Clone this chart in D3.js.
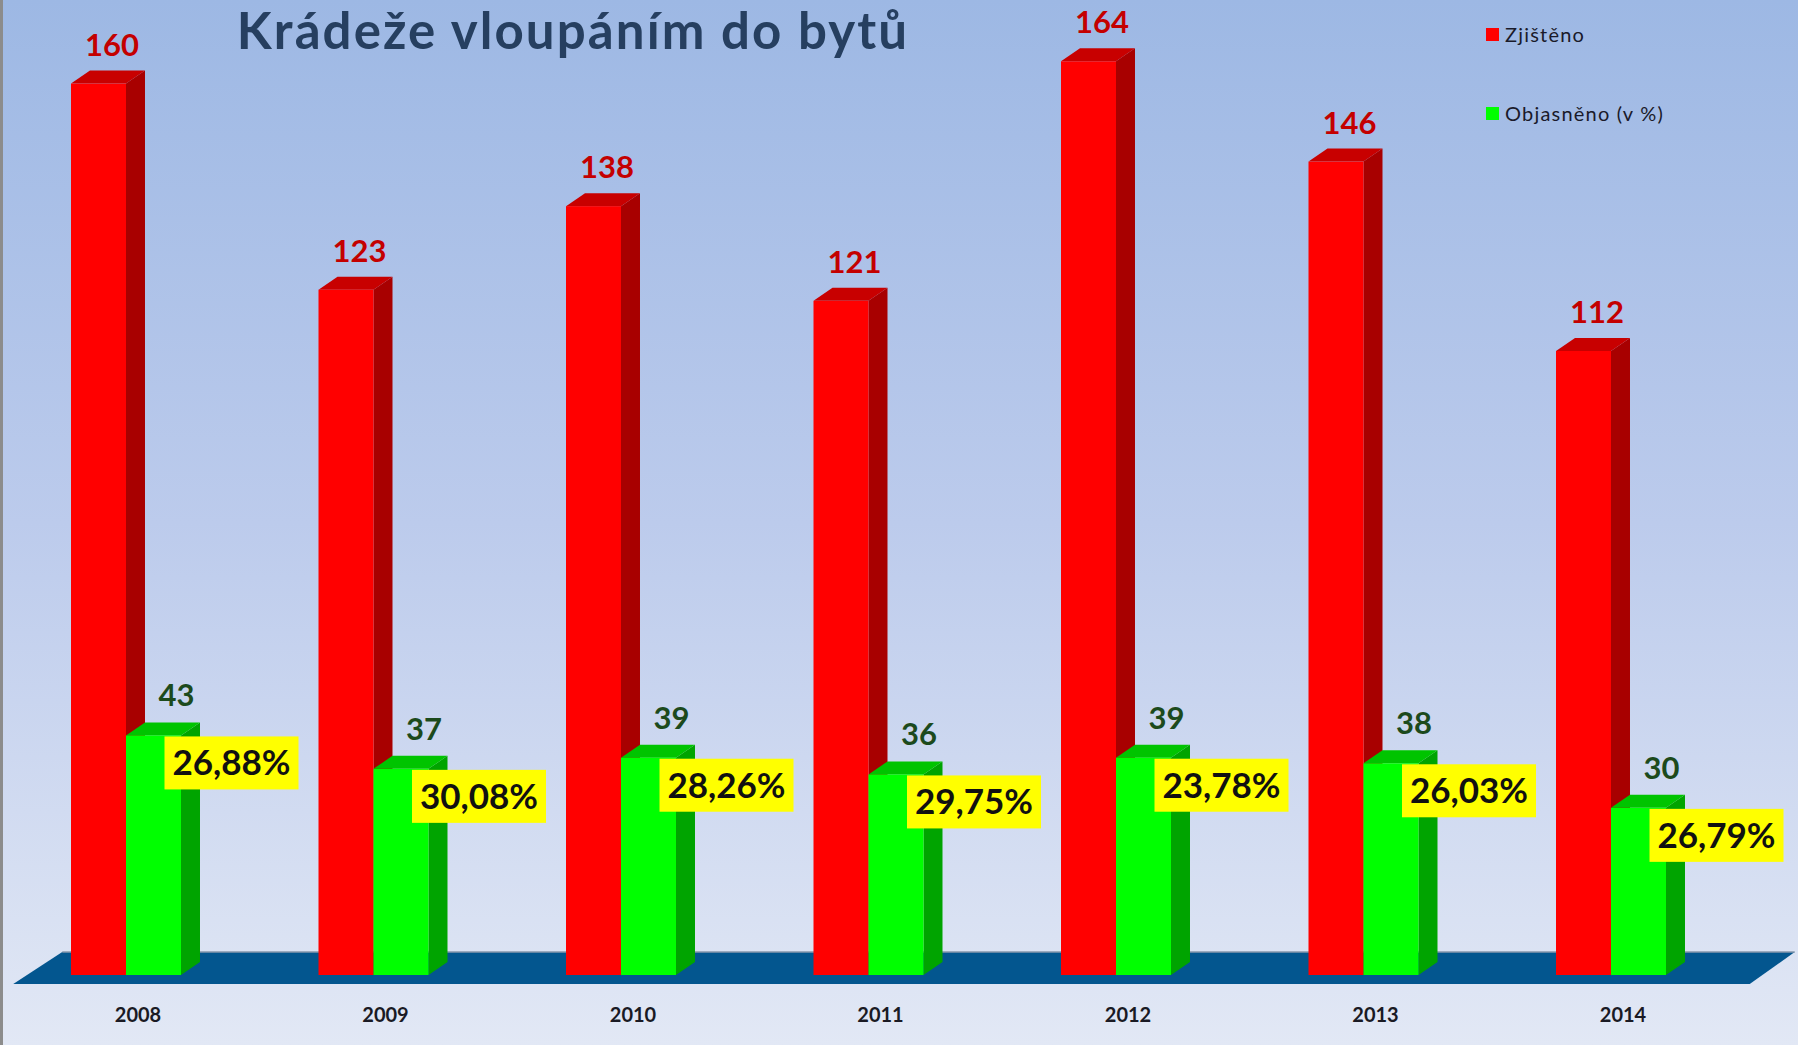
<!DOCTYPE html>
<html>
<head>
<meta charset="utf-8">
<script src="https://cdn.jsdelivr.net/npm/d3@7/dist/d3.min.js"></script>
<style>
  html, body { margin: 0; padding: 0; background: #ffffff; }
  svg { display: block; }
</style>
</head>
<body>
<svg id="chart" width="1798" height="1045"></svg>
<script>
// ---- data ----
const years = ["2008", "2009", "2010", "2011", "2012", "2013", "2014"];
const zjisteno = [160, 123, 138, 121, 164, 146, 112];
const objasneno = [43, 37, 39, 36, 39, 38, 30];
const percentLabels = ["26,88%", "30,08%", "28,26%", "29,75%", "23,78%", "26,03%", "26,79%"];
const seriesNames = ["Zjištěno", "Objasněno (v %)"];
const title = "Krádeže vloupáním do bytů";

// ---- layout ----
const W = 1798, H = 1045;
const svg = d3.select("#chart");
const FONT = "Lato, 'Open Sans', sans-serif";

const defs = svg.append("defs");
const grad = defs.append("linearGradient").attr("id", "bg").attr("x1", 0).attr("y1", 0).attr("x2", 0).attr("y2", 1);
grad.append("stop").attr("offset", "0%").attr("stop-color", "#9db8e4");
grad.append("stop").attr("offset", "50%").attr("stop-color", "#bccbec");
grad.append("stop").attr("offset", "100%").attr("stop-color", "#e2e8f5");
svg.append("rect").attr("width", W).attr("height", H).attr("fill", "url(#bg)");
svg.append("line").attr("x1", 1.5).attr("x2", 1.5).attr("y1", 0).attr("y2", H)
  .attr("stroke", "#8c8c8c").attr("stroke-width", 3);

const step = 247.5;
const x = d3.scaleBand().domain(years)
  .range([71 - 0.27778 * step, 71 - 0.27778 * step + years.length * step])
  .paddingInner(0.55556).paddingOuter(0.27778);
const xs = d3.scaleBand().domain(["z", "o"]).range([0, x.bandwidth()]).padding(0);
const y = d3.scaleLinear().domain([0, 175]).range([975, 0]);

const dx = 19, dy = 13;

// floor
const y0 = y(0);
const fx0 = x.range()[0], fx1 = x.range()[1];
const floorPts = [
  [fx0 + 11, y0 + 9],
  [fx1 + 15, y0 + 9],
  [fx1 + 60, y0 - 23],
  [fx0 + 60, y0 - 23]
];
svg.append("polygon").attr("points", floorPts.map(p => p.join(",")).join(" "))
  .attr("fill", "#03568f");
svg.append("line").attr("x1", floorPts[3][0]).attr("y1", floorPts[3][1])
  .attr("x2", floorPts[2][0]).attr("y2", floorPts[2][1])
  .attr("stroke", "#8797ad").attr("stroke-width", 1.5);

const colors = {
  z: { front: "#ff0000", side: "#a80000", top: "#c80000" },
  o: { front: "#00ff00", side: "#00a400", top: "#00c400" }
};

function drawBar(g, left, w, top, c) {
  const bottom = y(0);
  g.append("polygon").attr("points", [
    [left + w, top], [left + w + dx, top - dy], [left + w + dx, bottom - dy], [left + w, bottom]
  ].map(p => p.join(",")).join(" ")).attr("fill", c.side);
  g.append("polygon").attr("points", [
    [left, top], [left + dx, top - dy], [left + w + dx, top - dy], [left + w, top]
  ].map(p => p.join(",")).join(" ")).attr("fill", c.top);
  g.append("rect").attr("x", left).attr("y", top).attr("width", w).attr("height", bottom - top)
    .attr("fill", c.front);
}

const bars = svg.append("g");
years.forEach((yr, i) => {
  const g = bars.append("g");
  drawBar(g, x(yr) + xs("z"), xs.bandwidth(), y(zjisteno[i]), colors.z);
  drawBar(g, x(yr) + xs("o"), xs.bandwidth(), y(objasneno[i]), colors.o);
});

// labels
const labels = svg.append("g").attr("font-family", FONT).attr("font-weight", "bold");
years.forEach((yr, i) => {
  const bw = xs.bandwidth();
  const zx = x(yr) + xs("z") + bw / 2;
  const ox = x(yr) + xs("o") + bw / 2;
  labels.append("text").attr("x", zx + 13.5).attr("y", y(zjisteno[i]) - dy - 15)
    .attr("text-anchor", "middle").attr("font-size", 31).attr("fill", "#c40000")
    .text(zjisteno[i]);
  labels.append("text").attr("x", ox + 23).attr("y", y(objasneno[i]) - dy - 16)
    .attr("text-anchor", "middle").attr("font-size", 31).attr("fill", "#1c4a1c")
    .text(objasneno[i]);
  const bx = x(yr) + xs("o") + 38.5;
  const by = y(objasneno[i]) + 1;
  labels.append("rect").attr("x", bx).attr("y", by).attr("width", 134).attr("height", 53)
    .attr("fill", "#ffff00");
  labels.append("text").attr("x", bx + 67).attr("y", by + 39)
    .attr("text-anchor", "middle").attr("font-size", 35).attr("fill", "#111111")
    .text(percentLabels[i]);
  labels.append("text").attr("x", x(yr) + x.bandwidth() / 2 + 12).attr("y", 1022)
    .attr("text-anchor", "middle").attr("font-size", 20).attr("fill", "#1a1a24")
    .text(yr);
});

// title
svg.append("text").attr("x", 573).attr("y", 49).attr("text-anchor", "middle")
  .attr("font-family", FONT).attr("font-weight", "bold").attr("font-size", 51)
  .attr("letter-spacing", 2.1)
  .attr("fill", "#263f60").text(title);

// legend
const legend = svg.append("g").attr("font-family", FONT);
const legendColors = ["#ff0000", "#00ff00"];
const legendY = [28, 107];
seriesNames.forEach((s, i) => {
  legend.append("rect").attr("x", 1486).attr("y", legendY[i]).attr("width", 13).attr("height", 13)
    .attr("fill", legendColors[i]);
  legend.append("text").attr("x", 1505).attr("y", legendY[i] + 14)
    .attr("font-size", 20).attr("letter-spacing", 1.2).attr("fill", "#1a1a2a").text(s);
});
</script>
</body>
</html>
